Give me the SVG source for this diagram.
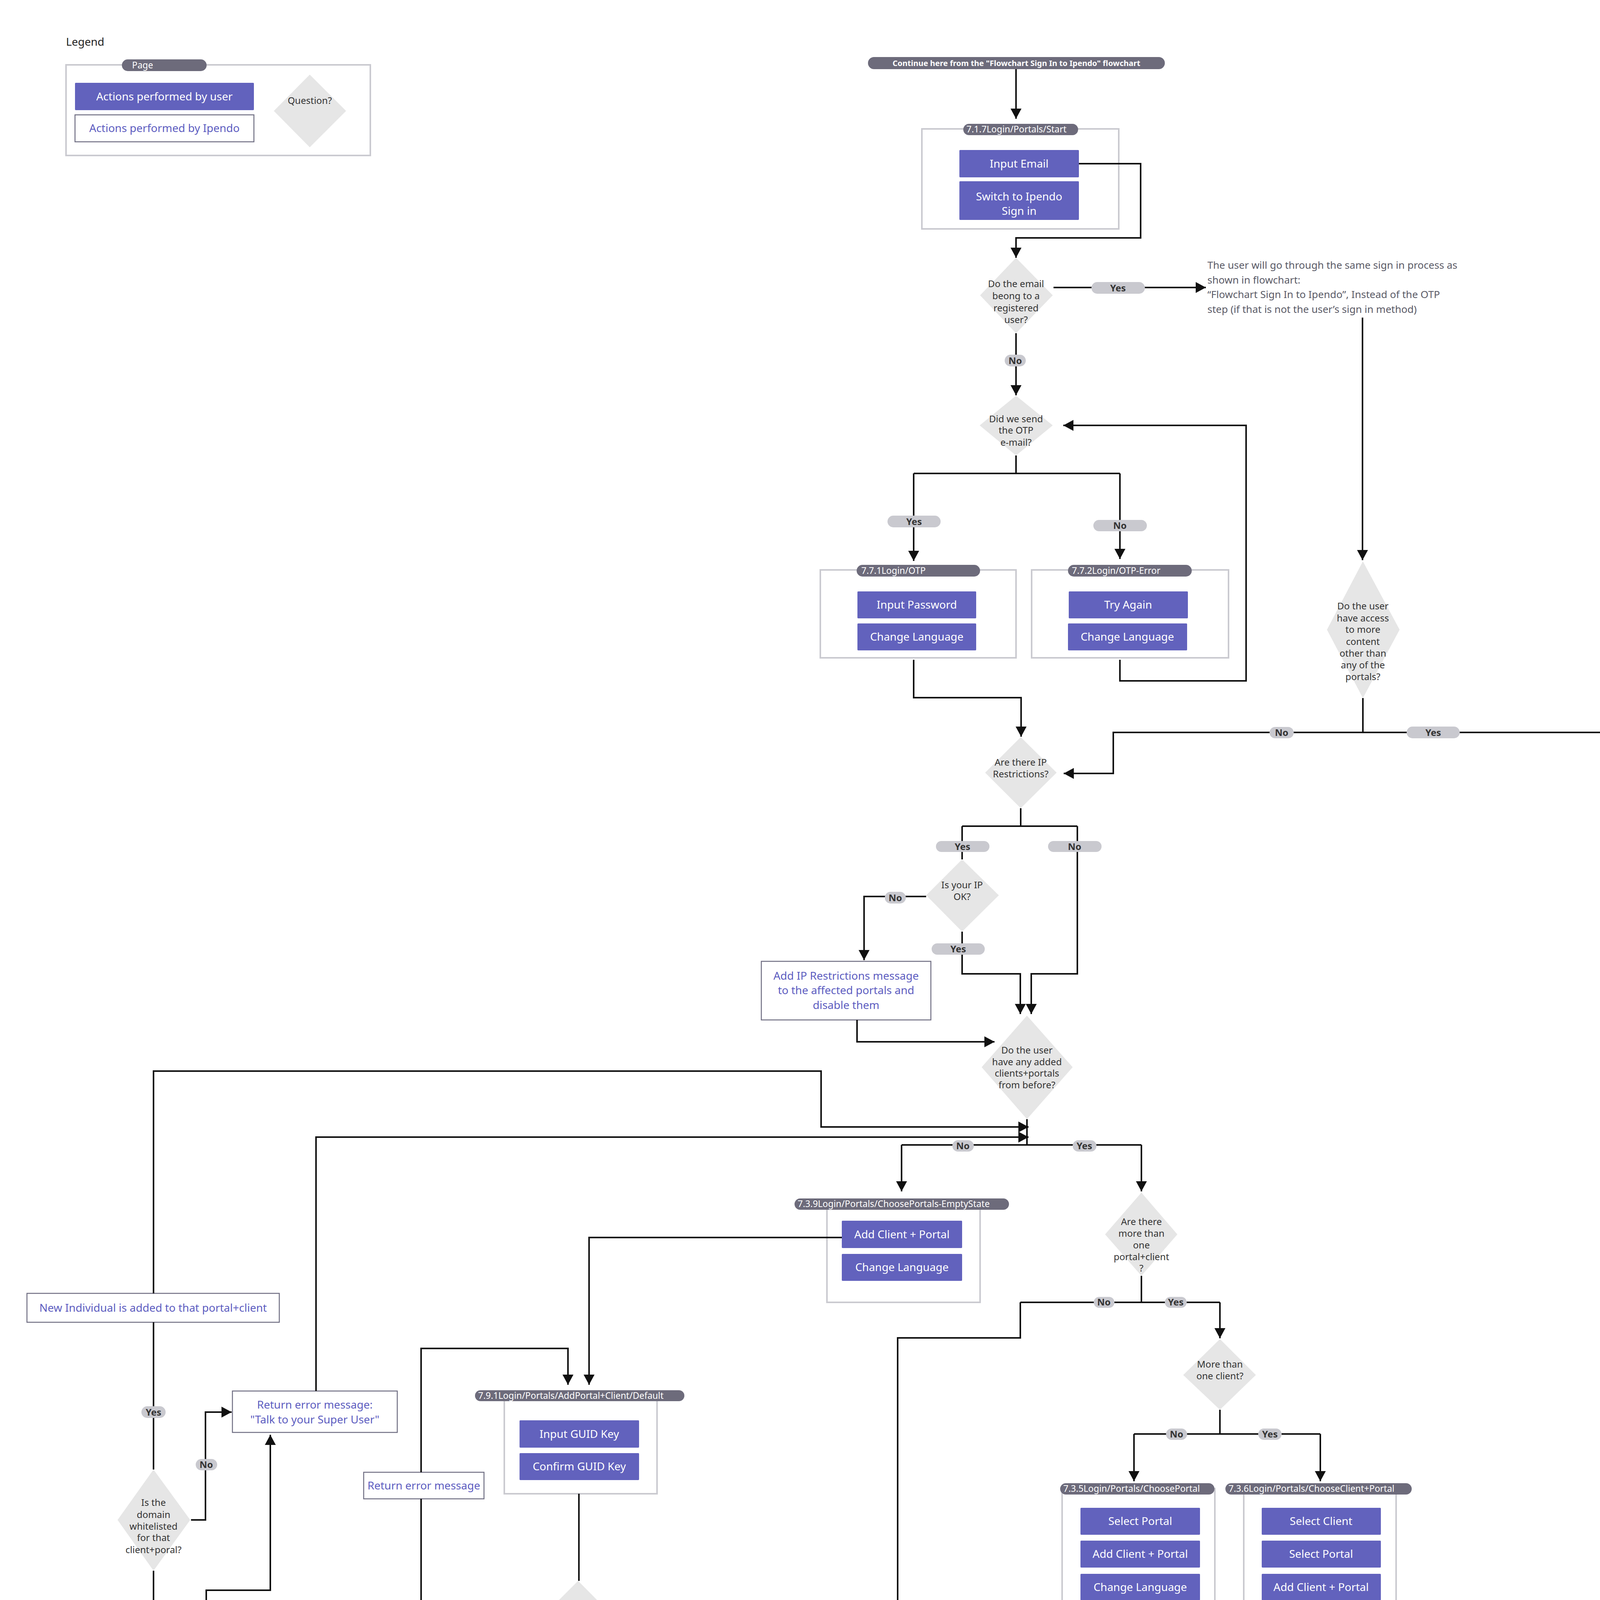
<svg xmlns="http://www.w3.org/2000/svg" width="5028" height="6146" viewBox="0 0 5028 6146">
<defs>
<marker id="ah" markerUnits="userSpaceOnUse" markerWidth="28" markerHeight="30" refX="26" refY="14" orient="auto"><path d="M0,0 L26,14 L0,28 z" fill="#111"/></marker>
<style>
text{font-family:"Noto Sans","Open Sans","Liberation Sans",sans-serif}
.lnk{fill:none;stroke:#111;stroke-width:4}
.arr{marker-end:url(#ah)}
.frame{fill:#fff;stroke:#cacad0;stroke-width:4}
.pg{fill:#6d6b7b}
.pgt{font-size:23px;fill:#fff}
.act{fill:#6262bd}
.actt{font-size:28px;fill:#fff;text-anchor:middle}
.ip{fill:#fff;stroke:#6f6e82;stroke-width:2.5}
.ipt{font-size:28px;fill:#5c5cc0;text-anchor:middle}
.dia{fill:#e6e6e6}
.diat{font-size:24px;fill:#333;text-anchor:middle}
.lbl{fill:#c9c9cf}
.lblt{font-size:24px;font-weight:bold;fill:#333;text-anchor:middle}
.note{font-size:26px;fill:#5a5a66}
</style>
</defs>
<rect width="5028" height="6146" fill="#fff"/>

<g id="legend">
<text x="169" y="117" font-size="28" fill="#222">Legend</text>
<rect class="frame" x="169" y="166" width="779" height="232"/>
<rect class="pg" x="312" y="152" width="217" height="30" rx="15"/>
<text class="pgt" x="338" y="175">Page</text>
<rect class="act" x="192" y="212" width="458" height="70" rx="2"/>
<text class="actt" x="421" y="257">Actions performed by user</text>
<rect class="ip" x="192" y="294" width="458" height="69"/>
<text class="ipt" x="421" y="338">Actions performed by Ipendo</text>
<polygon class="dia" points="793,191 886,284 793,377 701,284"/>
<text class="diat" x="793" y="266">Question?</text>
</g>

<g id="nodes">
<g id="start-pill">
<rect class="pg" x="2222" y="146" width="760" height="31" rx="15.5"/>
<text x="2602" y="169" font-size="20" font-weight="bold" fill="#fff" text-anchor="middle">Continue here from the "Flowchart Sign In to Ipendo" flowchart</text>
</g>
<g id="p717">
<rect class="frame" x="2360" y="330" width="504" height="256"/>
<rect class="pg" x="2466" y="317" width="294" height="29" rx="14.5"/>
<text class="pgt" x="2474" y="339">7.1.7Login/Portals/Start</text>
<rect class="act" x="2456" y="384" width="306" height="70" rx="2"/>
<text class="actt" x="2609" y="429">Input Email</text>
<rect class="act" x="2456" y="464" width="306" height="99" rx="2"/>
<text class="actt" x="2609" y="513">Switch to Ipendo</text>
<text class="actt" x="2609" y="550">Sign in</text>
</g>
<g id="q-email">
<polygon class="dia" points="2601,660 2695,756 2601,853 2509,756"/>
<text class="diat"><tspan x="2601" y="735">Do the email</tspan><tspan x="2601" y="766">beong to a</tspan><tspan x="2601" y="797">registered</tspan><tspan x="2601" y="827">user?</tspan></text>
</g>
<g id="note-same">
<text class="note"><tspan x="3091" y="688">The user will go through the same sign in process as</tspan><tspan x="3091" y="726">shown in flowchart:</tspan><tspan x="3091" y="763">“Flowchart Sign In to Ipendo”, Instead of the OTP</tspan><tspan x="3091" y="801">step (if that is not the user’s sign in method)</tspan></text>
</g>
<g id="q-otp">
<polygon class="dia" points="2601,1013 2695,1089 2601,1166 2508,1089"/>
<text class="diat"><tspan x="2601" y="1081">Did we send</tspan><tspan x="2601" y="1110">the OTP</tspan><tspan x="2601" y="1141">e-mail?</tspan></text>
</g>
<g id="p771">
<rect class="frame" x="2100" y="1459" width="501" height="225"/>
<rect class="pg" x="2193" y="1446" width="316" height="30" rx="15"/>
<text class="pgt" x="2205" y="1469">7.7.1Login/OTP</text>
<rect class="act" x="2195" y="1514" width="304" height="69" rx="2"/>
<text class="actt" x="2347" y="1558">Input Password</text>
<rect class="act" x="2195" y="1596" width="304" height="69" rx="2"/>
<text class="actt" x="2347" y="1640">Change Language</text>
</g>
<g id="p772">
<rect class="frame" x="2641" y="1459" width="504" height="225"/>
<rect class="pg" x="2734" y="1446" width="317" height="30" rx="15"/>
<text class="pgt" x="2744" y="1469">7.7.2Login/OTP-Error</text>
<rect class="act" x="2736" y="1514" width="305" height="69" rx="2"/>
<text class="actt" x="2888" y="1558">Try Again</text>
<rect class="act" x="2734" y="1596" width="305" height="69" rx="2"/>
<text class="actt" x="2886" y="1640">Change Language</text>
</g>
<g id="q-access">
<polygon class="dia" points="3489,1437 3583,1612 3489,1787 3397,1612"/>
<text class="diat"><tspan x="3489" y="1560">Do the user</tspan><tspan x="3489" y="1591">have access</tspan><tspan x="3489" y="1620">to more</tspan><tspan x="3489" y="1651">content</tspan><tspan x="3489" y="1681">other than</tspan><tspan x="3489" y="1711">any of the</tspan><tspan x="3489" y="1741">portals?</tspan></text>
</g>
<g id="note-continue">
<text class="note"><tspan x="4292" y="1877">Contunue on regular sig in in flowchart:</tspan><tspan x="4292" y="1915">“Flowchart Sign In to Ipendo”,</tspan><tspan x="4292" y="1953">slecting clients etc</tspan></text>
</g>
<g id="p741">
<rect class="frame" x="4278" y="2099" width="502" height="149"/>
<rect class="pg" x="4405" y="2087" width="247" height="29" rx="14.5"/>
<text class="pgt" x="4413" y="2109">7.4.1Login/Signedin</text>
</g>
<g id="q-ip">
<polygon class="dia" points="2613,1887 2705,1978 2613,2069 2522,1978"/>
<text class="diat"><tspan x="2613" y="1960">Are there IP</tspan><tspan x="2613" y="1990">Restrictions?</tspan></text>
</g>
<g id="q-ipok">
<polygon class="dia" points="2463,2200 2557,2292 2463,2385 2371,2292"/>
<text class="diat"><tspan x="2463" y="2274">Is your IP</tspan><tspan x="2463" y="2304">OK?</tspan></text>
</g>
<g id="a-addip">
<rect class="ip" x="1949" y="2461" width="434" height="150"/>
<text class="ipt"><tspan x="2166" y="2508">Add IP Restrictions message</tspan><tspan x="2166" y="2545">to the affected portals and</tspan><tspan x="2166" y="2583">disable them</tspan></text>
</g>
<g id="q-added">
<polygon class="dia" points="2629,2600 2746,2732 2629,2865 2513,2732"/>
<text class="diat"><tspan x="2629" y="2697">Do the user</tspan><tspan x="2629" y="2727">have any added</tspan><tspan x="2629" y="2756">clients+portals</tspan><tspan x="2629" y="2786">from before?</tspan></text>
</g>
<g id="p739">
<rect class="frame" x="2117" y="3082" width="392" height="252"/>
<rect class="pg" x="2034" y="3068" width="549" height="29" rx="14.5"/>
<text class="pgt" x="2042" y="3090">7.3.9Login/Portals/ChoosePortals-EmptyState</text>
<rect class="act" x="2155" y="3125" width="308" height="70" rx="2"/>
<text class="actt" x="2309" y="3170">Add Client + Portal</text>
<rect class="act" x="2155" y="3210" width="308" height="69" rx="2"/>
<text class="actt" x="2309" y="3254">Change Language</text>
</g>
<g id="q-multi">
<polygon class="dia" points="2922,3053 3014,3160 2922,3266 2829,3160"/>
<text class="diat"><tspan x="2922" y="3136">Are there</tspan><tspan x="2922" y="3166">more than</tspan><tspan x="2922" y="3196">one</tspan><tspan x="2922" y="3226">portal+client</tspan><tspan x="2922" y="3255">?</tspan></text>
</g>
<g id="q-client">
<polygon class="dia" points="3123,3428 3215,3520 3123,3609 3029,3520"/>
<text class="diat"><tspan x="3123" y="3501">More than</tspan><tspan x="3123" y="3531">one client?</tspan></text>
</g>
<g id="p735">
<rect class="frame" x="2719" y="3811" width="391" height="340"/>
<rect class="pg" x="2714" y="3797" width="395" height="29" rx="14.5"/>
<text class="pgt" x="2722" y="3819">7.3.5Login/Portals/ChoosePortal</text>
<rect class="act" x="2766" y="3860" width="306" height="69" rx="2"/>
<text class="actt" x="2919" y="3904">Select Portal</text>
<rect class="act" x="2766" y="3944" width="306" height="69" rx="2"/>
<text class="actt" x="2919" y="3988">Add Client + Portal</text>
<rect class="act" x="2766" y="4029" width="306" height="68" rx="2"/>
<text class="actt" x="2919" y="4073">Change Language</text>
</g>
<g id="p736">
<rect class="frame" x="3184" y="3811" width="390" height="398"/>
<rect class="pg" x="3137" y="3797" width="477" height="29" rx="14.5"/>
<text class="pgt" x="3145" y="3819">7.3.6Login/Portals/ChooseClient+Portal</text>
<rect class="act" x="3230" y="3860" width="305" height="69" rx="2"/>
<text class="actt" x="3382" y="3904">Select Client</text>
<rect class="act" x="3230" y="3944" width="305" height="69" rx="2"/>
<text class="actt" x="3382" y="3988">Select Portal</text>
<rect class="act" x="3230" y="4029" width="305" height="68" rx="2"/>
<text class="actt" x="3382" y="4073">Add Client + Portal</text>
<rect class="act" x="3230" y="4112" width="305" height="69" rx="2"/>
<text class="actt" x="3382" y="4156">Change Language</text>
</g>
<g id="q-policy">
<polygon class="dia" points="2298,4598 2390,4690 2298,4784 2206,4690"/>
<text class="diat"><tspan x="2298" y="4671">Have you</tspan><tspan x="2298" y="4701">accepted</tspan><tspan x="2298" y="4731">Policy Note?</tspan></text>
</g>
<g id="p751">
<rect class="frame" x="1775" y="5270" width="503" height="239"/>
<rect class="pg" x="1848" y="5256" width="358" height="30" rx="15"/>
<text class="pgt" x="1857" y="5279">7.5.1Login/PolicyNotice</text>
<rect class="act" x="1870" y="5324" width="306" height="69" rx="2"/>
<text class="actt" x="2023" y="5368">Accept</text>
<rect class="act" x="1870" y="5411" width="306" height="68" rx="2"/>
<text class="actt" x="2023" y="5455">Decline</text>
</g>
<g id="p743">
<rect class="frame" x="1456" y="5637" width="503" height="149"/>
<rect class="pg" x="1470" y="5625" width="473" height="29" rx="14.5"/>
<text class="pgt" x="1478" y="5647">7.4.3Login/Portals/Signedin-PortalOnly</text>
</g>
<g id="p791">
<rect class="frame" x="1291" y="3573" width="391" height="251"/>
<rect class="pg" x="1216" y="3559" width="536" height="28" rx="14"/>
<text class="pgt" x="1224" y="3581">7.9.1Login/Portals/AddPortal+Client/Default</text>
<rect class="act" x="1330" y="3636" width="306" height="70" rx="2"/>
<text class="actt" x="1483" y="3681">Input GUID Key</text>
<rect class="act" x="1330" y="3720" width="306" height="69" rx="2"/>
<text class="actt" x="1483" y="3764">Confirm GUID Key</text>
</g>
<g id="a-err1">
<rect class="ip" x="931" y="3769" width="308" height="68"/>
<text class="ipt" x="1085" y="3813">Return error message</text>
</g>
<g id="q-guid">
<polygon class="dia" points="1480,4047 1572,4140 1480,4232 1387,4140"/>
<text class="diat"><tspan x="1480" y="4121">Was the</tspan><tspan x="1480" y="4151">GUID key</tspan><tspan x="1480" y="4182">correct?</tspan></text>
</g>
<g id="a-client">
<rect class="ip" x="1085" y="4445" width="308" height="80"/>
<text class="ipt" x="1239" y="4495">Return client name</text>
</g>
<g id="q-ip2">
<polygon class="dia" points="956,4399 1049,4485 956,4583 863,4485"/>
<text class="diat"><tspan x="956" y="4473">Are there IP</tspan><tspan x="956" y="4504">Restrictions?</tspan></text>
</g>
<g id="q-ipok2">
<polygon class="dia" points="954,4725 1047,4818 954,4910 861,4818"/>
<text class="diat"><tspan x="954" y="4800">Is your IP</tspan><tspan x="954" y="4830">OK?</tspan></text>
</g>
<g id="a-err2">
<rect class="ip" x="818" y="5027" width="307" height="68"/>
<text class="ipt" x="971" y="5071">Return error message</text>
</g>
<g id="q-allow">
<polygon class="dia" points="528,4278 622,4485 528,4692 435,4485"/>
<text class="diat"><tspan x="528" y="4416">Do the</tspan><tspan x="528" y="4446">selected</tspan><tspan x="528" y="4477">client+portal</tspan><tspan x="528" y="4506">allow</tspan><tspan x="528" y="4537">creation for</tspan><tspan x="528" y="4567">new</tspan><tspan x="528" y="4597">individuals</tspan><tspan x="528" y="4628">from</tspan><tspan x="528" y="4658">portals?</tspan></text>
</g>
<g id="q-domain">
<polygon class="dia" points="393,3762 487,3891 393,4021 301,3891"/>
<text class="diat"><tspan x="393" y="3855">Is the</tspan><tspan x="393" y="3886">domain</tspan><tspan x="393" y="3916">whitelisted</tspan><tspan x="393" y="3945">for that</tspan><tspan x="393" y="3976">client+poral?</tspan></text>
</g>
<g id="a-super">
<rect class="ip" x="595" y="3561" width="422" height="106"/>
<text class="ipt"><tspan x="806" y="3606">Return error message:</tspan><tspan x="806" y="3644">"Talk to your Super User"</tspan></text>
</g>
<g id="a-newind">
<rect class="ip" x="69" y="3311" width="646" height="74"/>
<text class="ipt" x="392" y="3358">New Individual is added to that portal+client</text>
</g>
</g>

<g id="connectors">
<path class="lnk arr" d="M2601,177 V304"/>
<path class="lnk arr" d="M2762,419 H2920 V609 H2601 V660"/>
<path class="lnk arr" d="M2697,736 H3087"/>
<path class="lnk arr" d="M2601,853 V1012"/>
<path class="lnk" d="M2601,1166 V1212 M2339,1212 H2867"/>
<path class="lnk arr" d="M2339,1212 V1436"/>
<path class="lnk arr" d="M2867,1212 V1431"/>
<path class="lnk arr" d="M2867,1689 V1743 H3190 V1089 H2722"/>
<path class="lnk arr" d="M2339,1689 V1786 H2614 V1886"/>
<path class="lnk arr" d="M3488,813 V1434"/>
<path class="lnk" d="M3489,1787 V1875"/>
<path class="lnk arr" d="M3489,1875 H4275"/>
<path class="lnk arr" d="M3489,1875 H2850 V1980 H2723"/>
<path class="lnk arr" d="M4510,1963 V2075"/>
<path class="lnk" d="M2613,2069 V2115 M2463,2115 H2758 M2463,2115 V2200"/>
<path class="lnk arr" d="M2758,2115 V2493 H2640 V2596"/>
<path class="lnk arr" d="M2371,2295 H2212 V2458"/>
<path class="lnk arr" d="M2463,2385 V2493 H2612 V2596"/>
<path class="lnk arr" d="M2194,2611 V2667 H2546"/>
<path class="lnk" d="M2629,2865 V2931 M2308,2931 H2922"/>
<path class="lnk arr" d="M2308,2931 V3050"/>
<path class="lnk arr" d="M2922,2931 V3050"/>
<path class="lnk arr" d="M393,3311 V2742 H2102 V2885 H2633"/>
<path class="lnk arr" d="M809,3561 V2911 H2633"/>
<path class="lnk arr" d="M2155,3168 H1508 V3545"/>
<path class="lnk" d="M2922,3266 V3334 M2612,3334 H3123"/>
<path class="lnk arr" d="M2612,3334 V3425 H2298 V4596"/>
<path class="lnk arr" d="M3123,3334 V3426"/>
<path class="lnk" d="M3123,3609 V3671 M2903,3671 H3380"/>
<path class="lnk arr" d="M2903,3671 V3792"/>
<path class="lnk arr" d="M3380,3671 V3792"/>
<path class="lnk arr" d="M2907,4151 V4340 H2302"/>
<path class="lnk arr" d="M3380,4209 V4384 H2302"/>
<path class="lnk arr" d="M2298,4784 V5061 H1695 V5616"/>
<path class="lnk arr" d="M2391,4690 H2444 V5143 H1988 V5239"/>
<path class="lnk arr" d="M1775,5360 H1697"/>
<path class="lnk arr" d="M1078,3769 V3452 H1454 V3545"/>
<path class="lnk" d="M1482,3824 V4047"/>
<path class="lnk" d="M1373,4140 H1078 V3837"/>
<path class="lnk arr" d="M1482,4232 V4485 H1411"/>
<path class="lnk" d="M1085,4486 H1049"/>
<path class="lnk arr" d="M863,4485 H623"/>
<path class="lnk" d="M956,4583 V4725"/>
<path class="lnk arr" d="M861,4825 H527 V4706"/>
<path class="lnk arr" d="M954,4910 V5024"/>
<path class="lnk arr" d="M528,4278 V4071 H692 V3673"/>
<path class="lnk" d="M435,4485 H393 V4021"/>
<path class="lnk arr" d="M489,3891 H526 V3615 H593"/>
<path class="lnk" d="M393,3762 V3385"/>
</g>

<g id="labels">
<rect class="lbl" x="2794" y="722" width="137" height="30" rx="15"/><text class="lblt" x="2862" y="746">Yes</text>
<rect class="lbl" x="2572" y="908" width="54" height="30" rx="15"/><text class="lblt" x="2599" y="932">No</text>
<rect class="lbl" x="2272" y="1320" width="136" height="30" rx="15"/><text class="lblt" x="2340" y="1344">Yes</text>
<rect class="lbl" x="2799" y="1331" width="137" height="29" rx="14.5"/><text class="lblt" x="2867" y="1354">No</text>
<rect class="lbl" x="3250" y="1861" width="62" height="29" rx="14.5"/><text class="lblt" x="3281" y="1884">No</text>
<rect class="lbl" x="3601" y="1860" width="136" height="30" rx="15"/><text class="lblt" x="3669" y="1884">Yes</text>
<rect class="lbl" x="2396" y="2153" width="137" height="28" rx="14"/><text class="lblt" x="2464" y="2176">Yes</text>
<rect class="lbl" x="2683" y="2153" width="137" height="28" rx="14"/><text class="lblt" x="2751" y="2176">No</text>
<rect class="lbl" x="2265" y="2283" width="54" height="30" rx="15"/><text class="lblt" x="2292" y="2307">No</text>
<rect class="lbl" x="2385" y="2415" width="136" height="29" rx="14.5"/><text class="lblt" x="2453" y="2438">Yes</text>
<rect class="lbl" x="2438" y="2919" width="55" height="29" rx="14.5"/><text class="lblt" x="2465" y="2942">No</text>
<rect class="lbl" x="2746" y="2919" width="61" height="29" rx="14.5"/><text class="lblt" x="2776" y="2942">Yes</text>
<rect class="lbl" x="2800" y="3320" width="53" height="28" rx="14"/><text class="lblt" x="2826" y="3342">No</text>
<rect class="lbl" x="2982" y="3320" width="56" height="28" rx="14"/><text class="lblt" x="3010" y="3342">Yes</text>
<rect class="lbl" x="2985" y="3657" width="54" height="29" rx="14.5"/><text class="lblt" x="3012" y="3680">No</text>
<rect class="lbl" x="3221" y="3657" width="60" height="29" rx="14.5"/><text class="lblt" x="3251" y="3680">Yes</text>
<rect class="lbl" x="2229" y="4896" width="137" height="30" rx="15"/><text class="lblt" x="2297" y="4920">Yes</text>
<rect class="lbl" x="2372" y="4814" width="137" height="29" rx="14.5"/><text class="lblt" x="2440" y="4837">No</text>
<rect class="lbl" x="1227" y="4127" width="55" height="27" rx="13.5"/><text class="lblt" x="1254" y="4149">No</text>
<rect class="lbl" x="1448" y="4328" width="62" height="28" rx="14"/><text class="lblt" x="1479" y="4350">Yes</text>
<rect class="lbl" x="716" y="4470" width="56" height="29" rx="14.5"/><text class="lblt" x="744" y="4493">No</text>
<rect class="lbl" x="886" y="4594" width="137" height="29" rx="14.5"/><text class="lblt" x="954" y="4617">Yes</text>
<rect class="lbl" x="639" y="4813" width="136" height="28" rx="14"/><text class="lblt" x="707" y="4836">Yes</text>
<rect class="lbl" x="930" y="4934" width="52" height="30" rx="15"/><text class="lblt" x="956" y="4958">No</text>
<rect class="lbl" x="501" y="4195" width="55" height="29" rx="14.5"/><text class="lblt" x="528" y="4218">No</text>
<rect class="lbl" x="360" y="4270" width="62" height="29" rx="14.5"/><text class="lblt" x="391" y="4293">Yes</text>
<rect class="lbl" x="501" y="3735" width="55" height="29" rx="14.5"/><text class="lblt" x="528" y="3758">No</text>
<rect class="lbl" x="362" y="3600" width="62" height="30" rx="15"/><text class="lblt" x="393" y="3624">Yes</text>
</g>
</svg>
